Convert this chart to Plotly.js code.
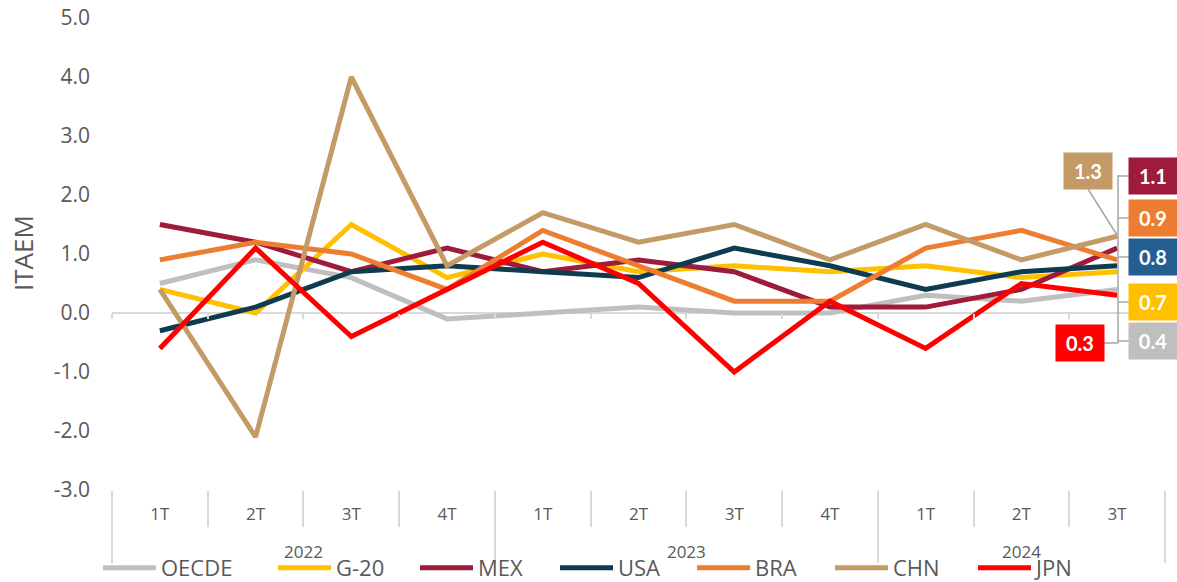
<!DOCTYPE html>
<html>
<head>
<meta charset="utf-8">
<script src="https://cdn.plot.ly/plotly-3.0.1.min.js"></script>
<style>
html,body{margin:0;padding:0;background:#fff;}
#chart{width:1177px;height:582px;}
</style>
</head>
<body>
<div id="chart"></div>
<script>
// ---- data ----
const years    = ['2022','2022','2022','2022','2023','2023','2023','2023','2024','2024','2024'];
const quarters = ['1T','2T','3T','4T','1T','2T','3T','4T','1T','2T','3T'];
const seriesNames = ['OECDE','G-20','MEX','USA','BRA','CHN','JPN'];
const OECDE = [0.5, 0.9, 0.6, -0.1, 0.0, 0.1, 0.0, 0.0, 0.3, 0.2, 0.4];
const G20   = [0.4, 0.0, 1.5, 0.6, 1.0, 0.7, 0.8, 0.7, 0.8, 0.6, 0.7];
const MEX   = [1.5, 1.2, 0.7, 1.1, 0.7, 0.9, 0.7, 0.1, 0.1, 0.4, 1.1];
const USA   = [-0.3, 0.1, 0.7, 0.8, 0.7, 0.6, 1.1, 0.8, 0.4, 0.7, 0.8];
const BRA   = [0.9, 1.2, 1.0, 0.4, 1.4, 0.8, 0.2, 0.2, 1.1, 1.4, 0.9];
const CHN   = [0.4, -2.1, 4.0, 0.8, 1.7, 1.2, 1.5, 0.9, 1.5, 0.9, 1.3];
const JPN   = [-0.6, 1.1, -0.4, 0.4, 1.2, 0.5, -1.0, 0.2, -0.6, 0.5, 0.3];
const yTickVals   = [-3, -2, -1, 0, 1, 2, 3, 4, 5];
const yTickLabels = ['-3.0', '-2.0', '-1.0', '0.0', '1.0', '2.0', '3.0', '4.0', '5.0'];
const yTitle = 'ITAEM';

// ---- derived category helpers ----
const idx = quarters.map((q, i) => i);
const yearNames = [...new Set(years)];
const yearCenters = yearNames.map(y => {
  const ii = idx.filter(i => years[i] === y);
  return (ii[0] + ii[ii.length - 1]) / 2;
});
const yearBounds = [-0.5];
idx.forEach(i => { if (i > 0 && years[i] !== years[i - 1]) yearBounds.push(i - 0.5); });
yearBounds.push(idx.length - 0.5);
const catBounds = idx.map(i => i - 0.5).concat([idx.length - 0.5]);
const xRange = [-0.5, idx.length - 0.5];
const yRange = [-3, 5];

// ---- styles ----
const seriesValues = [OECDE, G20, MEX, USA, BRA, CHN, JPN];
const lineColors  = ['#BFBFBF', '#FFC000', '#9E1B3B', '#0E3B50', '#ED7D31', '#C49A66', '#FF0000'];
const labelColors = ['#BFBFBF', '#FFC000', '#9E1B3B', '#255E91', '#ED7D31', '#C49A66', '#FF0000'];
const FONT = 'Open Sans, Lato, sans-serif';
const GREY = '#595959';
const SEP = '#D9D9D9';

// plot-area pixel geometry
const L = 112, R = 12, T = 18, B = 92, W = 1177, H = 582;
const PW = W - L - R, PH = H - T - B;
const px = v => (v - L) / PW;
const py = v => (H - B - v) / PH;

// legend entry start positions (pixels)
const legendStarts = [103, 278, 420, 560, 697, 835, 978];
const legendIds = ['legend', 'legend2', 'legend3', 'legend4', 'legend5', 'legend6', 'legend7'];

const traces = seriesNames.map((n, i) => ({
  type: 'scatter', mode: 'lines', name: n,
  x: [years, quarters], y: seriesValues[i],
  line: {color: lineColors[i], width: 5},
  legend: legendIds[i],
  hoverinfo: 'skip'
}));
// empty carriers so the helper axes (quarter labels, year labels, zero-line ticks) are drawn
['x2', 'x3', 'x4'].forEach(ax => traces.push({
  type: 'scatter', mode: 'lines', x: xRange, y: [null, null], xaxis: ax, yaxis: 'y',
  showlegend: false, hoverinfo: 'skip'
}));

// end-of-line value labels (boxes) — centres in pixels
const labelPos = {
  'OECDE': [1153, 341], 'G-20': [1153, 302], 'MEX': [1153, 176],
  'USA': [1153, 257], 'BRA': [1153, 218], 'CHN': [1088, 171], 'JPN': [1080, 343]
};
const annotations = seriesNames.map((n, i) => {
  const vals = seriesValues[i];
  const last = vals[vals.length - 1];
  return {
    xref: 'paper', yref: 'paper', x: px(labelPos[n][0]), y: py(labelPos[n][1]),
    xanchor: 'center', yanchor: 'middle', showarrow: false,
    text: '<b>' + last.toFixed(1) + '</b>',
    font: {family: 'Lato, sans-serif', size: 20, color: '#ffffff'},
    bgcolor: labelColors[i], width: 48, height: 36, borderpad: 0
  };
});
annotations.push({
  xref: 'paper', yref: 'paper', x: px(23), y: py(253), xanchor: 'center', yanchor: 'middle',
  showarrow: false, textangle: -90, text: yTitle,
  font: {family: FONT, size: 26, color: GREY}
});

const LEAD = '#A6A6A6';
const seg = (x0, y0, x1, y1) => ({type: 'line', xref: 'paper', yref: 'paper',
  x0: px(x0), y0: py(y0), x1: px(x1), y1: py(y1), line: {color: LEAD, width: 1.5}});
const shapes = [
  seg(1118, 175, 1118, 343),
  seg(1118, 176, 1129, 176),
  seg(1118, 218, 1129, 218),
  seg(1118, 257, 1129, 257),
  seg(1118, 302, 1129, 302),
  seg(1118, 341, 1129, 341),
  seg(1104, 343, 1118, 343),
  seg(1088, 189, 1117, 235)
];

const helperAxis = {
  overlaying: 'x', automargin: false, range: xRange,
  showgrid: false, zeroline: false, showline: false, fixedrange: true
};

const layout = {
  width: W, height: H,
  margin: {l: L, r: R, t: T, b: B, pad: 0, autoexpand: false},
  paper_bgcolor: '#ffffff', plot_bgcolor: '#ffffff',
  font: {family: FONT, color: GREY},
  showlegend: true,
  // data axis (two-level categories); only the quarter separators are drawn here
  xaxis: {
    type: 'multicategory', automargin: false, range: xRange,
    tickson: 'boundaries', ticks: 'outside', ticklen: 36, tickwidth: 2, tickcolor: SEP,
    showticklabels: false, showdividers: false,
    showgrid: false, zeroline: false, showline: false, fixedrange: true
  },
  // quarter labels
  xaxis2: Object.assign({}, helperAxis, {
    anchor: 'y', side: 'bottom',
    tickmode: 'array', tickvals: idx, ticktext: quarters,
    ticks: '', ticklabelstandoff: 12,
    tickfont: {family: FONT, size: 17, color: GREY}
  }),
  // year labels and year dividers
  xaxis3: Object.assign({}, helperAxis, {
    anchor: 'y', side: 'bottom',
    tickmode: 'array', tickvals: yearCenters, ticktext: yearNames,
    ticks: '', ticklabelstandoff: 50,
    tickfont: {family: FONT, size: 17, color: GREY},
    minor: {tickmode: 'array', tickvals: yearBounds, ticks: 'outside', ticklen: 72,
            tickwidth: 2, tickcolor: SEP, showgrid: false}
  }),
  // small tick marks on the zero line
  xaxis4: Object.assign({}, helperAxis, {
    anchor: 'free', position: (0 - yRange[0]) / (yRange[1] - yRange[0]), side: 'bottom',
    tickmode: 'array', tickvals: catBounds, showticklabels: false,
    ticks: 'outside', ticklen: 5, tickwidth: 2, tickcolor: SEP
  }),
  yaxis: {
    automargin: false, range: yRange, tickvals: yTickVals, ticktext: yTickLabels,
    showgrid: false, zeroline: true, zerolinecolor: SEP, zerolinewidth: 2,
    showline: false, ticks: '', ticklabelstandoff: 21,
    tickfont: {family: FONT, size: 21, color: GREY},
    fixedrange: true
  },
  annotations: annotations,
  shapes: shapes
};
legendIds.forEach((id, i) => {
  layout[id] = {
    orientation: 'h', x: px(legendStarts[i] - 5), xanchor: 'left', y: py(547), yanchor: 'top',
    font: {family: FONT, size: 22, color: GREY},
    itemwidth: 53, bgcolor: 'rgba(0,0,0,0)'
  };
});

Plotly.newPlot('chart', traces, layout, {displayModeBar: false, staticPlot: true});
</script>
</body>
</html>
